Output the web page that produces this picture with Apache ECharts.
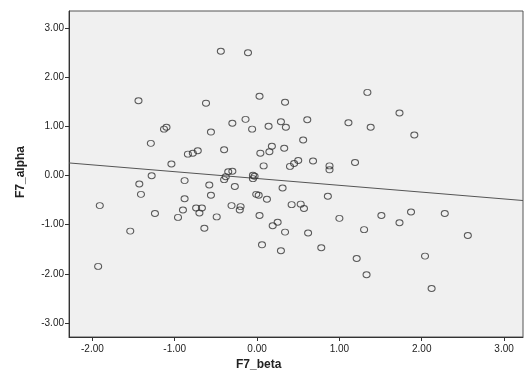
<!DOCTYPE html>
<html>
<head>
<meta charset="utf-8">
<script src="https://cdn.jsdelivr.net/npm/echarts@6/dist/echarts.min.js"></script>
<style>
  html, body { margin: 0; padding: 0; background: #fff; }
  #main { width: 524px; height: 372px; }
</style>
</head>
<body>
<div id="main"></div>
<script>
// F7_beta values (x) and F7_alpha values (y)
let betaVals = [-0.44, -0.11, -1.44, -0.62, 0.03, 0.34, -1.13, -1.10, -1.29, -0.56,
  -0.30, -0.14, -0.06, 0.14, 0.29, 0.35, 0.18, 0.15, 0.04, 0.33,
  -0.40, -0.84, -0.78, -0.72, -1.04, -1.28, 0.08, 0.40, 0.45, 0.50,
  -0.35, -0.30, -0.38, -0.40, -0.05, -0.03, -0.05, 1.34, 1.73, 0.61,
  1.11, 1.38, 1.91, 0.56, 0.68, 0.88, 0.88, 1.19, -1.43, -1.41,
  -1.91, -0.88, -0.88, -1.24, -1.54, -1.93, -0.90, -0.96, -0.74, -0.67,
  -0.70, -0.64, -0.58, -0.56, -0.49, -0.27, -0.31, -0.20, -0.21, -0.01,
  0.02, 0.12, 0.03, 0.19, 0.25, 0.34, 0.06, 0.29, 0.31, 0.42,
  0.53, 0.57, 0.86, 1.00, 0.62, 0.78, 1.51, 1.30, 1.21, 1.33,
  1.73, 1.87, 2.28, 2.56, 2.04, 2.12];
let alphaVals = [2.54, 2.51, 1.53, 1.48, 1.62, 1.50, 0.95, 0.99, 0.66, 0.89,
  1.07, 1.15, 0.95, 1.01, 1.10, 0.99, 0.60, 0.49, 0.46, 0.56,
  0.53, 0.44, 0.46, 0.51, 0.24, 0.00, 0.20, 0.19, 0.25, 0.31,
  0.08, 0.09, -0.02, -0.08, 0.01, -0.01, -0.06, 1.70, 1.28, 1.14,
  1.08, 0.99, 0.83, 0.73, 0.30, 0.20, 0.12, 0.27, -0.17, -0.38,
  -0.61, -0.10, -0.47, -0.77, -1.13, -1.85, -0.70, -0.85, -0.66, -0.66,
  -0.76, -1.07, -0.19, -0.40, -0.84, -0.22, -0.61, -0.63, -0.70, -0.38,
  -0.40, -0.48, -0.81, -1.02, -0.95, -1.15, -1.41, -1.53, -0.25, -0.59,
  -0.58, -0.67, -0.42, -0.87, -1.17, -1.47, -0.81, -1.10, -1.69, -2.02,
  -0.96, -0.74, -0.77, -1.22, -1.64, -2.30];

let xTicks = [-2, -1, 0, 1, 2, 3];
let yTicks = [-3, -2, -1, 0, 1, 2, 3];
let xRange = [-2.284, 3.23];
let yRange = [-3.29, 3.36];

// fit line (total population)
let fitIntercept = -0.057;
let fitSlope = -0.139;

let points = betaVals.map(function (b, i) { return [b, alphaVals[i]]; });
let fitLine = xRange.map(function (x) { return [x, fitIntercept + fitSlope * x]; });

function fmt(v) { return Number(v).toFixed(2); }

let labelStyle = {
  color: "#222",
  fontFamily: "Liberation Sans",
  fontSize: 10
};

let option = {
  animation: false,
  backgroundColor: "#fff",
  grid: {
    left: 69,
    top: 11,
    right: 1,
    bottom: 35,
    show: true,
    backgroundColor: "#f0f0f0",
    borderColor: "#555",
    borderWidth: 1
  },
  xAxis: {
    type: "value",
    min: xRange[0],
    max: xRange[1],
    axisLine: { show: true, onZero: false, lineStyle: { color: "#333" } },
    axisTick: { show: true, customValues: xTicks, length: 4, lineStyle: { color: "#333" } },
    axisLabel: Object.assign({ customValues: xTicks, formatter: fmt, margin: 7 }, labelStyle),
    splitLine: { show: false }
  },
  yAxis: {
    type: "value",
    min: yRange[0],
    max: yRange[1],
    axisLine: { show: true, onZero: false, lineStyle: { color: "#333" } },
    axisTick: { show: true, customValues: yTicks, length: 4, lineStyle: { color: "#333" } },
    axisLabel: Object.assign({ customValues: yTicks, formatter: fmt, margin: 5 }, labelStyle),
    splitLine: { show: false }
  },
  graphic: [
    {
      type: "text",
      left: 236,
      top: 359,
      style: {
        text: "F7_beta",
        fill: "#222",
        font: "bold 12px Liberation Sans"
      }
    },
    {
      type: "text",
      x: 15,
      y: 198,
      rotation: Math.PI / 2,
      style: {
        text: "F7_alpha",
        fill: "#222",
        font: "bold 12px Liberation Sans"
      }
    }
  ],
  series: [
    {
      type: "scatter",
      data: points,
      symbol: "circle",
      symbolSize: [7, 6],
      itemStyle: {
        color: "rgba(0,0,0,0)",
        borderColor: "#333",
        borderWidth: 1
      },
      z: 3
    },
    {
      type: "line",
      data: fitLine,
      symbol: "none",
      lineStyle: { color: "#555", width: 1 },
      z: 2
    }
  ]
};

let chart = echarts.init(document.getElementById("main"));
chart.setOption(option);
</script>
</body>
</html>
